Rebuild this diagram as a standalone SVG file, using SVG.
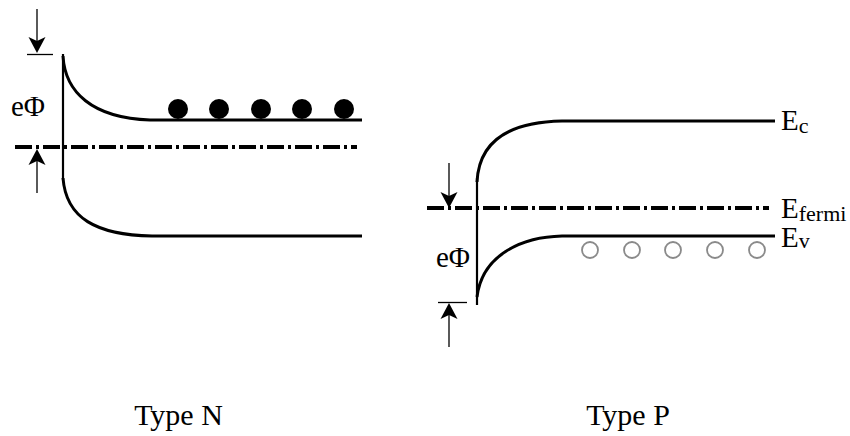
<svg xmlns="http://www.w3.org/2000/svg" width="850" height="436" viewBox="0 0 850 436">
<style>
.band{fill:none;stroke:#000;stroke-width:3;stroke-linecap:butt}
.wall{fill:none;stroke:#000;stroke-width:2.2}
.fermi{fill:none;stroke:#000;stroke-width:4;stroke-dasharray:17 4 3 4}
.thin{fill:none;stroke:#000;stroke-width:1.3}
.head{fill:#000}
.el{fill:#000}
.hole{fill:#fff;stroke:#8a8a8a;stroke-width:1.8}
text{font-family:"Liberation Serif","Times New Roman",serif;fill:#000}
.lbl{font-size:29px}
.sub{font-size:22px}
.cap{font-size:30px}
</style>
<defs>
<path id="hd" d="M0,0 L-8.5,-16 L0,-12 L8.5,-16 Z"/>
</defs>
<g id="typeN">
<g id="n-bands">
<path class="wall" d="M63,54 L63,180"/>
<path class="band" d="M63,56 C65,92 92,118 150,120 L362,120"/>
<path class="band" d="M63,178 C66,218 96,235 152,236 L362,236"/>
<path class="fermi" d="M15,147 L357,147"/>
</g>
<g id="n-electrons">
<circle class="el" cx="178" cy="109" r="10"/>
<circle class="el" cx="219" cy="109" r="10"/>
<circle class="el" cx="261" cy="109" r="10"/>
<circle class="el" cx="302" cy="109" r="10"/>
<circle class="el" cx="344" cy="109" r="10"/>
</g>
<g id="n-phi">
<path class="thin" d="M37,9 L37,42"/>
<use href="#hd" class="head" transform="translate(37,53)"/>
<path class="thin" d="M27,54.5 L53,54.5"/>
<path class="thin" d="M37,160 L37,193"/>
<use href="#hd" class="head" transform="translate(37,149) rotate(180)"/>
<text class="lbl" x="11" y="116">eΦ</text>
</g>
<text class="cap" x="178.5" y="425" text-anchor="middle">Type N</text>
</g>
<g id="typeP">
<g id="p-bands">
<path class="wall" d="M477,178 L477,305"/>
<path class="band" d="M477,182 C479,140 510,122 562,121 L775,121"/>
<path class="band" d="M477,297 C482,256 520,237 562,236 L775,236"/>
<path class="fermi" d="M427,208 L769,208"/>
</g>
<g id="p-holes">
<circle class="hole" cx="590" cy="250" r="8"/>
<circle class="hole" cx="632" cy="250" r="8"/>
<circle class="hole" cx="673" cy="250" r="8"/>
<circle class="hole" cx="715" cy="250" r="8"/>
<circle class="hole" cx="757" cy="250" r="8"/>
</g>
<g id="p-phi">
<path class="thin" d="M449,163 L449,197"/>
<use href="#hd" class="head" transform="translate(449,208)"/>
<path class="thin" d="M438,302.5 L467,302.5"/>
<path class="thin" d="M449,314 L449,347"/>
<use href="#hd" class="head" transform="translate(449,303) rotate(180)"/>
<text class="lbl" x="436" y="267">eΦ</text>
</g>
<g id="p-labels">
<text class="lbl" x="781" y="130">E<tspan class="sub" dy="3">c</tspan></text>
<text class="lbl" x="781" y="218">E<tspan class="sub" dy="3">fermi</tspan></text>
<text class="lbl" x="781" y="247">E<tspan class="sub" dy="1">v</tspan></text>
</g>
<text class="cap" x="628" y="425" text-anchor="middle">Type P</text>
</g>
</svg>
